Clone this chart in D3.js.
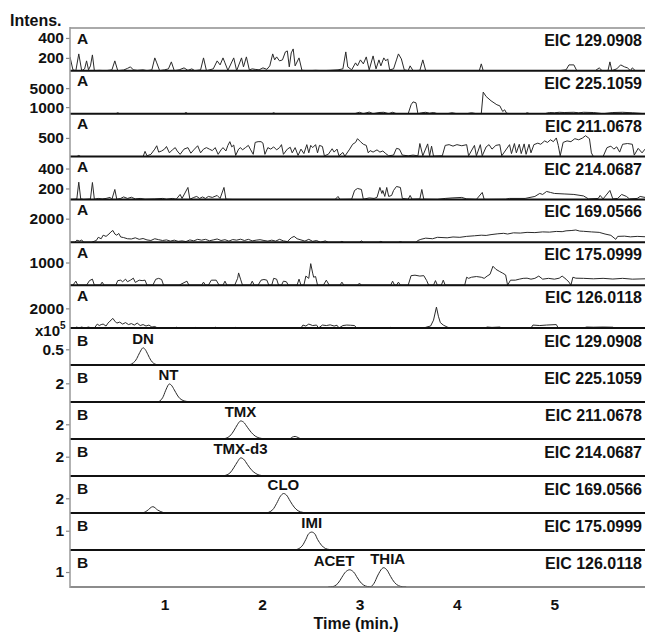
<!DOCTYPE html>
<html><head><meta charset="utf-8">
<script src="https://cdn.jsdelivr.net/npm/d3@7"></script>
<style>body{margin:0;background:#fff}svg{display:block;font-family:"Liberation Sans",Arial,sans-serif;font-weight:bold}</style>
</head><body><svg id="c" width="645" height="634"></svg>
<script>
// ---------------- data ----------------
const xDomain = [0.03, 5.93];
const xTickValues = [1, 2, 3, 4, 5];
const eicLabels = ["EIC 129.0908","EIC 225.1059","EIC 211.0678","EIC 214.0687","EIC 169.0566","EIC 175.0999","EIC 126.0118",
                   "EIC 129.0908","EIC 225.1059","EIC 211.0678","EIC 214.0687","EIC 169.0566","EIC 175.0999","EIC 126.0118"];
const groupLabels = ["A","A","A","A","A","A","A","B","B","B","B","B","B","B"];
const yDomains = [[70,500],[-400,8650],[0,1150],[90,520],[0,3630],[0,1894],[0,4365],
                  [0,1.18],[0,3.96],[0,5.03],[0,3.83],[0,5.03],[0,1.92],[0,2.47]];
const yTickValues = [[200,400],[1000,5000],[500],[200,400],[2000],[1000],[2000],[0.5],[2],[2],[2],[2],[1],[1]];
// [compound name, time where its label is centred]
const compoundLabels = [[],[],[],[],[],[],[],[["DN",0.78]],[["NT",1.04]],[["TMX",1.78]],[["TMX-d3",1.78]],[["CLO",2.22]],[["IMI",2.51]],[["ACET",2.74],["THIA",3.29]]];

const eicA129 = [[0.03,210],[0.06,80],[0.09,72],[0.12,240],[0.15,72],[0.18,90],[0.20,170],[0.22,80],[0.24,120],[0.26,230],[0.28,72],[0.33,75],[0.40,72],[0.46,80],[0.49,170],[0.52,72],[0.58,78],[0.62,95],[0.65,110],[0.68,80],[0.72,75],[0.78,80],[0.82,72],[0.87,80],[0.90,200],[0.92,150],[0.95,72],[1.00,80],[1.04,90],[1.07,160],[1.10,72],[1.15,80],[1.20,100],[1.24,75],[1.28,90],[1.31,72],[1.37,80],[1.40,200],[1.43,72],[1.50,90],[1.54,170],[1.57,130],[1.60,200],[1.62,150],[1.65,75],[1.71,200],[1.74,72],[1.79,200],[1.81,110],[1.84,210],[1.87,80],[1.90,90],[1.93,85],[1.97,80],[2.01,100],[2.05,85],[2.08,120],[2.11,240],[2.13,180],[2.15,210],[2.18,170],[2.21,180],[2.24,260],[2.26,270],[2.28,110],[2.30,250],[2.32,290],[2.34,120],[2.38,200],[2.41,75],[2.48,72],[2.55,75],[2.62,72],[2.70,75],[2.78,80],[2.83,90],[2.86,260],[2.88,110],[2.92,80],[2.96,150],[2.98,120],[3.01,180],[3.04,140],[3.07,210],[3.10,80],[3.14,220],[3.17,90],[3.20,180],[3.22,120],[3.25,200],[3.27,170],[3.29,190],[3.31,80],[3.35,90],[3.38,180],[3.40,240],[3.43,190],[3.46,80],[3.50,72],[3.52,120],[3.55,72],[3.62,75],[3.65,180],[3.68,72],[3.80,72],[4.23,72],[4.25,140],[4.27,72],[4.60,72],[5.05,72],[5.12,80],[5.15,130],[5.20,130],[5.23,72],[5.42,72],[5.46,100],[5.49,72],[5.55,72],[5.57,160],[5.59,72],[5.64,90],[5.68,130],[5.72,110],[5.75,100],[5.78,72],[5.80,100],[5.83,72],[5.93,72]];
const eicA225 = [[0.03,-400],[0.5,-400],[0.52,-200],[0.54,-400],[1.2,-400],[1.22,-150],[1.24,-400],[2.1,-400],[2.12,-200],[2.14,-400],[2.95,-400],[3.0,-100],[3.04,-400],[3.1,-50],[3.14,-400],[3.2,-150],[3.25,-100],[3.3,-400],[3.34,-100],[3.38,-400],[3.50,-400],[3.53,1500],[3.55,2100],[3.58,1900],[3.60,-400],[3.64,-200],[3.68,-100],[3.72,-300],[3.76,-150],[3.80,-400],[3.9,-400],[3.95,-200],[4.0,-400],[4.1,-400],[4.15,-200],[4.2,-400],[4.25,-400],[4.27,4160],[4.30,3230],[4.35,2330],[4.41,1490],[4.44,1270],[4.47,70],[4.49,430],[4.51,-300],[4.55,-400],[4.7,-400],[4.72,-200],[4.75,-400],[4.9,-400],[4.95,-150],[5.0,-200],[5.05,-100],[5.1,-150],[5.2,-100],[5.25,-200],[5.3,-100],[5.4,-150],[5.5,-400],[5.6,-150],[5.7,-100],[5.8,-200],[5.93,-400]];
const eicA211 = [[0.03,0],[0.10,0],[0.12,30],[0.14,0],[0.78,0],[0.80,140],[0.82,20],[0.86,60],[0.90,200],[0.92,290],[0.94,120],[0.97,150],[1.00,200],[1.02,270],[1.05,100],[1.08,180],[1.11,240],[1.13,150],[1.16,60],[1.20,200],[1.24,240],[1.27,90],[1.30,180],[1.34,290],[1.37,100],[1.40,200],[1.43,240],[1.46,200],[1.49,160],[1.52,240],[1.55,60],[1.58,180],[1.60,240],[1.63,150],[1.65,300],[1.67,400],[1.69,260],[1.71,310],[1.73,30],[1.76,200],[1.78,240],[1.80,180],[1.83,240],[1.86,300],[1.88,200],[1.91,60],[1.93,380],[1.96,400],[1.99,400],[2.01,360],[2.03,60],[2.06,240],[2.09,200],[2.12,260],[2.15,180],[2.18,240],[2.20,320],[2.22,60],[2.26,200],[2.29,250],[2.31,100],[2.34,240],[2.37,30],[2.40,200],[2.43,80],[2.46,320],[2.48,100],[2.50,300],[2.52,240],[2.55,320],[2.57,100],[2.59,300],[2.62,270],[2.64,20],[2.68,60],[2.72,210],[2.74,120],[2.77,200],[2.79,20],[2.83,110],[2.85,10],[2.90,200],[2.93,330],[2.96,380],[2.98,480],[3.01,400],[3.04,330],[3.07,300],[3.09,100],[3.11,160],[3.14,120],[3.18,180],[3.21,120],[3.24,150],[3.27,80],[3.30,20],[3.35,40],[3.38,220],[3.41,200],[3.44,40],[3.50,20],[3.55,40],[3.60,20],[3.62,350],[3.65,20],[3.70,340],[3.72,20],[3.74,280],[3.76,10],[3.85,20],[3.88,300],[3.92,320],[3.96,280],[4.00,320],[4.05,290],[4.10,320],[4.12,20],[4.18,300],[4.20,20],[4.24,320],[4.26,20],[4.30,260],[4.33,320],[4.36,200],[4.40,300],[4.44,320],[4.46,20],[4.54,320],[4.56,80],[4.59,350],[4.61,100],[4.64,330],[4.66,80],[4.69,340],[4.71,60],[4.74,330],[4.76,100],[4.79,320],[4.83,360],[4.86,330],[4.90,420],[4.93,380],[4.96,450],[4.99,400],[5.02,500],[5.04,300],[5.06,20],[5.09,380],[5.13,420],[5.17,400],[5.21,480],[5.25,450],[5.29,500],[5.32,560],[5.36,480],[5.38,100],[5.40,0],[5.50,0],[5.54,240],[5.58,280],[5.61,200],[5.64,260],[5.67,120],[5.70,330],[5.75,350],[5.80,330],[5.82,40],[5.86,220],[5.90,100],[5.93,200]];
const eicA214 = [[0.03,90],[0.08,92],[0.10,95],[0.12,263],[0.14,95],[0.17,90],[0.24,95],[0.26,260],[0.28,92],[0.32,100],[0.36,95],[0.40,100],[0.44,110],[0.46,92],[0.49,190],[0.51,92],[0.55,100],[0.58,115],[0.62,100],[0.66,112],[0.70,95],[0.75,100],[0.80,92],[0.90,95],[0.98,100],[1.02,92],[1.08,100],[1.12,92],[1.16,140],[1.18,100],[1.24,210],[1.26,92],[1.30,110],[1.33,120],[1.36,100],[1.39,115],[1.42,100],[1.45,120],[1.49,110],[1.54,130],[1.57,100],[1.61,210],[1.63,92],[1.70,90],[2.75,90],[2.78,120],[2.80,90],[2.92,92],[2.95,180],[2.98,200],[3.02,190],[3.04,92],[3.10,105],[3.15,100],[3.18,110],[3.21,210],[3.23,150],[3.24,180],[3.26,120],[3.28,210],[3.30,120],[3.33,130],[3.35,180],[3.38,220],[3.42,210],[3.44,100],[3.50,92],[3.52,130],[3.54,92],[3.62,95],[3.64,190],[3.66,92],[3.80,90],[3.88,100],[3.95,105],[4.05,110],[4.10,95],[4.20,90],[4.26,160],[4.28,90],[4.50,92],[4.54,100],[4.70,100],[4.80,120],[4.85,150],[4.88,140],[4.92,170],[4.96,160],[5.00,150],[5.10,145],[5.20,140],[5.30,125],[5.35,95],[5.45,100],[5.47,130],[5.50,95],[5.57,180],[5.60,95],[5.65,100],[5.69,140],[5.74,120],[5.77,95],[5.85,100],[5.88,120],[5.93,110]];
const eicA169 = [[0.03,0],[0.08,0],[0.10,180],[0.13,100],[0.15,200],[0.17,0],[0.25,0],[0.30,150],[0.32,420],[0.35,300],[0.37,600],[0.40,500],[0.43,700],[0.45,880],[0.47,1000],[0.49,700],[0.51,600],[0.53,750],[0.55,450],[0.58,400],[0.62,300],[0.66,280],[0.70,380],[0.74,250],[0.78,320],[0.82,200],[0.86,150],[0.90,300],[0.94,220],[0.98,150],[1.02,200],[1.06,100],[1.10,180],[1.14,80],[1.18,120],[1.22,60],[1.26,200],[1.30,120],[1.34,250],[1.38,180],[1.42,250],[1.46,130],[1.50,200],[1.54,280],[1.58,150],[1.62,220],[1.66,100],[1.70,230],[1.74,180],[1.78,260],[1.82,150],[1.86,250],[1.90,120],[1.94,180],[1.98,220],[2.02,150],[2.06,100],[2.10,180],[2.14,100],[2.18,250],[2.22,120],[2.26,60],[2.30,380],[2.33,500],[2.36,300],[2.40,200],[2.44,100],[2.48,250],[2.52,80],[2.56,150],[2.60,0],[2.65,120],[2.68,0],[2.80,0],[2.82,80],[2.84,0],[3.00,0],[3.02,120],[3.04,0],[3.20,0],[3.22,80],[3.24,0],[3.40,0],[3.42,60],[3.44,0],[3.58,0],[3.60,150],[3.63,250],[3.68,350],[3.75,300],[3.80,420],[3.90,380],[3.96,450],[4.03,420],[4.10,500],[4.18,550],[4.25,600],[4.30,580],[4.35,650],[4.42,720],[4.48,760],[4.52,700],[4.58,800],[4.65,780],[4.72,840],[4.80,820],[4.88,880],[4.95,860],[5.02,920],[5.08,900],[5.12,970],[5.18,1000],[5.22,1040],[5.26,950],[5.30,930],[5.38,880],[5.46,840],[5.52,700],[5.58,590],[5.63,250],[5.65,500],[5.72,520],[5.78,460],[5.85,500],[5.93,470]];
const eicA175 = [[0.03,0],[0.06,0],[0.09,176],[0.11,0],[0.20,0],[0.23,200],[0.26,264],[0.28,0],[0.34,0],[0.36,132],[0.38,0],[0.50,0],[0.52,200],[0.55,220],[0.57,150],[0.60,264],[0.62,150],[0.65,220],[0.68,308],[0.70,120],[0.74,220],[0.77,200],[0.80,220],[0.82,0],[0.88,0],[0.91,260],[0.94,300],[0.97,250],[0.99,0],[1.15,0],[1.23,176],[1.25,0],[1.38,0],[1.40,132],[1.42,0],[1.45,0],[1.48,220],[1.53,220],[1.56,0],[1.60,0],[1.62,176],[1.64,0],[1.72,0],[1.75,300],[1.76,540],[1.78,264],[1.80,0],[1.88,0],[1.90,176],[1.92,0],[1.96,0],[1.99,220],[2.02,250],[2.05,220],[2.07,0],[2.10,0],[2.12,300],[2.15,264],[2.17,0],[2.20,0],[2.22,176],[2.25,150],[2.27,0],[2.36,0],[2.38,264],[2.40,0],[2.43,0],[2.45,400],[2.48,300],[2.50,950],[2.52,530],[2.53,350],[2.55,380],[2.57,0],[2.63,0],[2.66,220],[2.69,0],[2.80,0],[2.82,132],[2.84,0],[2.98,0],[3.00,90],[3.02,0],[3.32,0],[3.34,176],[3.36,0],[3.38,0],[3.40,132],[3.42,0],[3.50,0],[3.53,420],[3.57,440],[3.62,400],[3.66,420],[3.69,200],[3.71,0],[3.76,0],[3.78,200],[3.80,0],[3.84,0],[3.86,220],[3.88,0],[4.08,0],[4.10,350],[4.12,300],[4.15,350],[4.20,380],[4.25,350],[4.28,300],[4.31,400],[4.34,480],[4.37,836],[4.40,700],[4.44,600],[4.47,530],[4.50,450],[4.52,0],[4.55,220],[4.60,220],[4.64,264],[4.68,300],[4.72,308],[4.76,264],[4.80,300],[4.84,400],[4.88,264],[4.94,300],[5.00,264],[5.05,308],[5.08,400],[5.12,264],[5.15,132],[5.17,0],[5.19,350],[5.22,308],[5.30,300],[5.40,280],[5.50,300],[5.60,270],[5.70,300],[5.80,264],[5.93,280]];
const eicA126 = [[0.03,0],[0.08,0],[0.10,100],[0.12,0],[0.15,100],[0.18,0],[0.22,100],[0.25,0],[0.28,0],[0.31,400],[0.33,250],[0.35,350],[0.37,400],[0.40,200],[0.42,500],[0.44,700],[0.47,980],[0.49,700],[0.51,500],[0.54,600],[0.57,400],[0.60,550],[0.63,350],[0.66,450],[0.69,300],[0.72,500],[0.75,250],[0.78,350],[0.81,200],[0.84,300],[0.87,100],[0.90,150],[0.93,0],[1.10,0],[1.12,80],[1.14,0],[1.30,0],[1.32,60],[1.36,0],[1.50,0],[1.52,80],[1.54,0],[1.70,0],[1.73,60],[1.76,0],[2.40,0],[2.42,300],[2.45,200],[2.48,400],[2.52,250],[2.56,300],[2.58,0],[2.62,300],[2.66,250],[2.70,320],[2.74,200],[2.77,280],[2.79,0],[2.83,250],[2.87,300],[2.91,280],[2.95,250],[2.97,0],[3.30,0],[3.32,60],[3.34,0],[3.66,0],[3.69,100],[3.73,200],[3.76,800],[3.79,2130],[3.81,1200],[3.83,550],[3.86,300],[3.90,100],[3.93,0],[4.29,0],[4.31,100],[4.36,60],[4.44,100],[4.46,0],[4.76,0],[4.78,300],[4.85,250],[4.92,300],[5.02,350],[5.04,0],[5.30,0],[5.33,100],[5.40,80],[5.50,100],[5.60,80],[5.62,0],[5.93,0]];

const eicB129 = [[0.62,0],[0.66,0.03],[0.70,0.13],[0.73,0.30],[0.76,0.48],[0.78,0.55],[0.80,0.50],[0.83,0.33],[0.86,0.15],[0.89,0.05],[0.93,0]];
const eicB225 = [[0.91,0],[0.95,0.1],[0.98,0.45],[1.01,1.2],[1.04,1.85],[1.05,1.93],[1.07,1.8],[1.10,1.3],[1.13,0.75],[1.16,0.35],[1.20,0.12],[1.25,0.04],[1.33,0]];
const eicB211 = [[1.58,0],[1.63,0.1],[1.67,0.4],[1.71,1.1],[1.75,2.0],[1.78,2.45],[1.81,2.3],[1.85,1.6],[1.89,0.9],[1.93,0.4],[1.97,0.15],[2.02,0.04],[2.08,0],[2.28,0],[2.31,0.25],[2.34,0.35],[2.37,0.2],[2.40,0]];
const eicB214 = [[1.58,0],[1.63,0.08],[1.67,0.3],[1.71,0.85],[1.75,1.5],[1.78,1.87],[1.81,1.75],[1.85,1.2],[1.89,0.65],[1.93,0.3],[1.97,0.1],[2.02,0.03],[2.08,0]];
const eicB169 = [[0.78,0],[0.82,0.3],[0.88,0.86],[0.93,0.4],[0.98,0.1],[1.02,0],[2.02,0],[2.07,0.1],[2.11,0.45],[2.15,1.3],[2.19,2.3],[2.22,2.65],[2.25,2.45],[2.29,1.6],[2.33,0.8],[2.37,0.3],[2.42,0.08],[2.48,0]];
const eicB175 = [[2.32,0],[2.37,0.05],[2.41,0.2],[2.45,0.55],[2.48,0.85],[2.51,0.93],[2.54,0.85],[2.57,0.55],[2.61,0.25],[2.65,0.08],[2.70,0.02],[2.76,0]];
const eicB126 = [[2.68,0],[2.74,0.05],[2.78,0.25],[2.82,0.65],[2.86,1.02],[2.90,1.15],[2.94,1.0],[2.98,0.6],[3.02,0.25],[3.06,0.07],[3.10,0.02],[3.12,0.03],[3.15,0.25],[3.19,0.8],[3.23,1.22],[3.25,1.29],[3.28,1.15],[3.32,0.7],[3.36,0.3],[3.40,0.09],[3.44,0.02],[3.48,0]];

const traces = [eicA129, eicA225, eicA211, eicA214, eicA169, eicA175, eicA126,
                eicB129, eicB225, eicB211, eicB214, eicB169, eicB175, eicB126];

// ---------------- drawing ----------------
const svg = d3.select("#c");
const FONT = '"Liberation Sans",Arial,sans-serif';
const left = 70, right = 645;
const x = d3.scaleLinear().domain(xDomain).range([left, right]);
const panelTop = i => i < 7 ? 28 + i * 300 / 7 : 328 + (i - 7) * 37;
const panelH = i => i < 7 ? 300 / 7 : 37;

traces.forEach((data, i) => {
  const top = panelTop(i), h = panelH(i), bottom = top + h;
  const y = d3.scaleLinear().domain(yDomains[i]).range([bottom, top]);
  const g = svg.append("g");
  const clipId = "clip" + i;
  svg.append("clipPath").attr("id", clipId).append("rect")
     .attr("x", left).attr("y", top).attr("width", right - left).attr("height", h);
  const line = d3.line().x(d => x(d[0])).y(d => y(d[1]))
     .curve(i < 7 ? d3.curveLinear : d3.curveCatmullRom.alpha(0.5));
  g.append("path").datum(data).attr("clip-path", `url(#${clipId})`)
     .attr("d", line).attr("fill", "none").attr("stroke", "#2a2a2a").attr("stroke-width", 1);

  // separator
  g.append("line").attr("x1", left).attr("x2", right).attr("y1", bottom).attr("y2", bottom)
     .attr("stroke", i === 13 ? "#666" : "#111").attr("stroke-width", i === 13 ? 1.5 : 2);

  // y axis
  const ax = d3.axisLeft(y).tickValues(yTickValues[i]).tickSize(4).tickPadding(2)
     .tickFormat(d => String(d));
  const axg = g.append("g").attr("transform", `translate(${left},0)`).call(ax);
  axg.select(".domain").remove();
  axg.selectAll(".tick line").attr("stroke", "#888").attr("stroke-width", 1.2);
  axg.selectAll(".tick text").attr("fill", "#111").attr("font-size", 15.5)
     .attr("font-family", FONT).attr("font-weight", "bold");

  // labels
  const labOff = i < 7 ? 15.5 : 18;
  g.append("text").attr("x", 77).attr("y", top + labOff).attr("font-size", 15.5).attr("fill", "#111").text(groupLabels[i]);
  g.append("text").attr("x", 642).attr("y", top + (i < 7 ? 18 : 18.5)).attr("text-anchor", "end")
     .attr("font-size", 16).attr("fill", "#111").text(eicLabels[i]);

  compoundLabels[i].forEach(([name, t]) => {
    const near = data.filter(d => Math.abs(d[0] - t) <= 0.2);
    const apex = d3.max(near, d => d[1]);
    g.append("text").attr("x", x(t)).attr("y", y(apex) - 4).attr("text-anchor", "middle")
     .attr("font-size", 15).attr("fill", "#111").text(name);
  });
});

// frame lines
svg.append("line").attr("x1", left).attr("x2", right).attr("y1", 28).attr("y2", 28)
   .attr("stroke", "#aaa").attr("stroke-width", 2);
svg.append("line").attr("x1", left).attr("x2", left).attr("y1", 27).attr("y2", 588)
   .attr("stroke", "#999").attr("stroke-width", 1.5);

// x axis labels
const xa = d3.axisBottom(x).tickValues(xTickValues).tickSize(0).tickPadding(12).tickFormat(d3.format("d"));
const xg = svg.append("g").attr("transform", "translate(0,587)").call(xa);
xg.select(".domain").remove();
xg.selectAll(".tick text").attr("font-size", 15.5).attr("fill", "#111")
  .attr("font-family", FONT).attr("font-weight", "bold");

svg.append("text").attr("x", 356).attr("y", 629).attr("text-anchor", "middle")
   .attr("font-size", 16).attr("fill", "#111").text("Time (min.)");
svg.append("text").attr("x", 10).attr("y", 26).attr("font-size", 16).attr("fill", "#111").text("Intens.");
const xt = svg.append("text").attr("x", 35).attr("y", 336).attr("font-size", 15).attr("fill", "#111");
xt.append("tspan").text("x10");
xt.append("tspan").attr("dy", -7).attr("font-size", 10).text("5");
</script></body></html>
